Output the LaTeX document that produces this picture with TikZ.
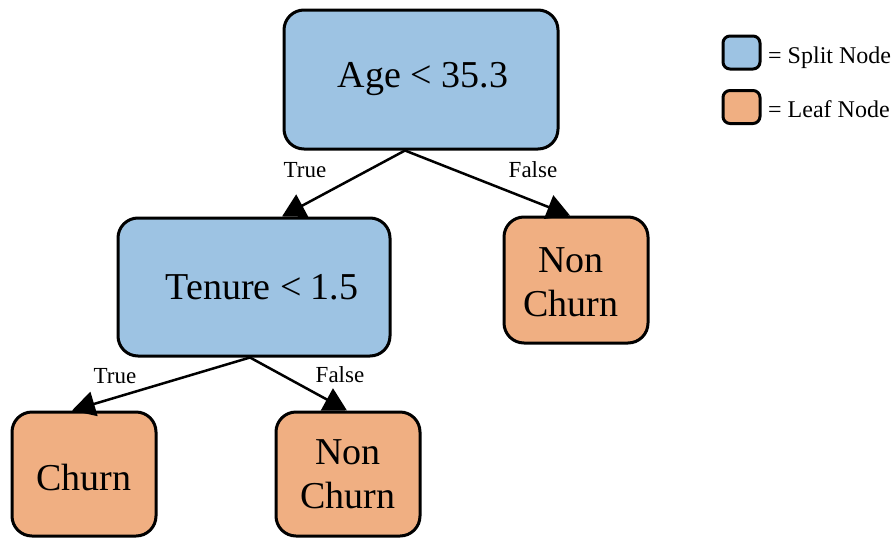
\documentclass[tikz,border=0pt]{standalone}
\usepackage{fontspec}
\setmainfont{Liberation Serif}
\usetikzlibrary{arrows.meta}
\definecolor{splitblue}{HTML}{9DC3E3}
\definecolor{leaforange}{HTML}{F0AF82}
\tikzset{
  box/.style={draw=black, line width=3pt, rounded corners=20pt, inner sep=0pt},
  splitbox/.style={box, fill=splitblue},
  leafbox/.style={box, fill=leaforange},
  boxtext/.style={align=center, inner sep=0pt, font=\fontsize{38}{44}\selectfont},
  edge/.style={line width=2.5pt, -{Triangle[length=23pt,width=25pt]}},
  lbl/.style={anchor=base, inner sep=0pt, font=\fontsize{23}{26}\selectfont},
  keytext/.style={anchor=base west, inner sep=0pt, font=\fontsize{24}{26}\selectfont},
  keybox/.style={draw=black, line width=3pt, rounded corners=7pt,
    minimum width=37pt, minimum height=33pt, inner sep=0pt},
}
\begin{document}
\begin{tikzpicture}[x=1pt, y=-1pt]
  \useasboundingbox (0,0) rectangle (896,538);

  % tree nodes
  \node[splitbox, minimum width=274pt, minimum height=139pt] (root) at (421,79.5) {};
  \node[splitbox, minimum width=272pt, minimum height=138pt] (ten) at (254,287) {};
  \node[leafbox, minimum width=144pt, minimum height=126pt] (nc1) at (576,280) {};
  \node[leafbox, minimum width=144pt, minimum height=124pt] (churn) at (84,474) {};
  \node[leafbox, minimum width=144pt, minimum height=124pt] (nc2) at (348,474) {};

  % node texts
  \node[boxtext] (roott) at ([xshift=2pt]root.center) {Age < 35.3};
  \node[boxtext] (tent) at ([xshift=8pt]ten.center) {Tenure < 1.5};
  \node[boxtext] (nc1t) at ([xshift=-5pt,yshift=-2pt]nc1.center) {Non\\Churn};
  \node[boxtext] (churnt) at ([yshift=-3pt]churn.center) {Churn};
  \node[boxtext] (nc2t) at (nc2.center) {Non\\Churn};

  % branches
  \draw[edge] ([xshift=-16pt]root.south) -- ([xshift=28pt]ten.north);
  \draw[edge] ([xshift=-16pt]root.south) -- ([xshift=-6pt]nc1.north);
  \draw[edge] ([xshift=-4pt]ten.south) -- ([xshift=-12pt]churn.north);
  \draw[edge] ([xshift=-4pt]ten.south) -- ([xshift=-1pt]nc2.north);

  % branch labels
  \node[lbl] (t1) at (305,177) {True};
  \node[lbl] (f1) at (533,177) {False};
  \node[lbl] (t2) at (115,383) {True};
  \node[lbl] (f2) at (340,382) {False};

  % key
  \node[keybox, fill=splitblue] (ksplit) at (741.5,52.5) {};
  \node[keybox, fill=leaforange] (kleaf) at (741.5,107) {};
  \node[keytext] (ksplitt) at (768,63) {= Split Node};
  \node[keytext] (kleaft) at (768,117) {= Leaf Node};
\end{tikzpicture}
\end{document}
